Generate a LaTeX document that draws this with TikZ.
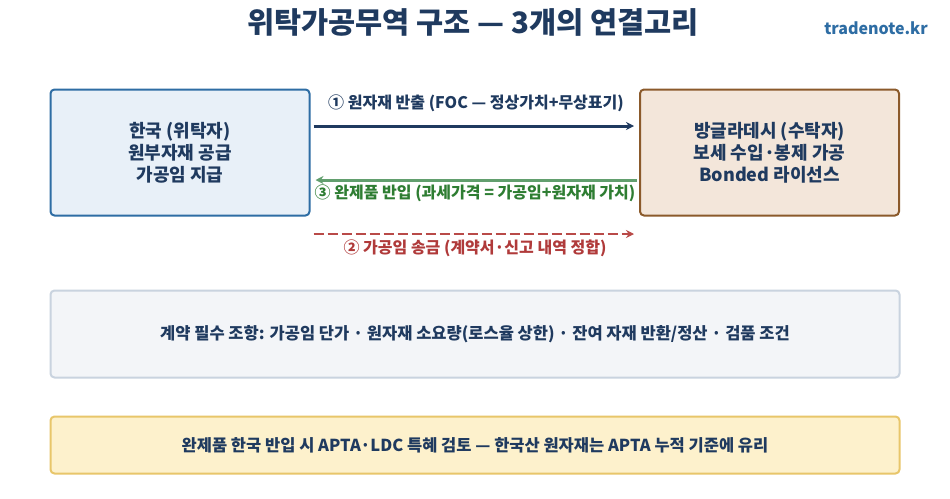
\documentclass[tikz,border=0pt]{standalone}
\usepackage{fontspec}
\setmainfont{Noto Sans CJK KR}
\usetikzlibrary{arrows.meta}
\definecolor{navy}{HTML}{1F3A5F}
\definecolor{linkblue}{HTML}{2E6DA4}
\definecolor{lboxfill}{HTML}{E8F0F8}
\definecolor{lboxdraw}{HTML}{2E6DA4}
\definecolor{rboxfill}{HTML}{F3E6DA}
\definecolor{rboxdraw}{HTML}{8B5A2B}
\definecolor{greenline}{HTML}{629F6E}
\definecolor{greentext}{HTML}{2E7D32}
\definecolor{redline}{HTML}{B94A48}
\definecolor{redtext}{HTML}{B03A3A}
\definecolor{gboxfill}{HTML}{F3F5F8}
\definecolor{gboxdraw}{HTML}{C9D3DF}
\definecolor{yboxfill}{HTML}{FDF1CC}
\definecolor{yboxdraw}{HTML}{E8C66A}
\tikzset{
  party/.style={rounded corners=4pt, line width=2pt, minimum width=259pt, minimum height=126pt,
    align=center, text=navy, font=\bfseries\fontsize{18}{22}\selectfont},
  wide/.style={rounded corners=4pt, line width=2pt, minimum width=849pt, align=center,
    text=navy, font=\bfseries\fontsize{16.5}{20}\selectfont},
  flowlabel/.style={font=\bfseries\fontsize{16}{20}\selectfont, inner sep=0pt},
  tip/.style={-{Stealth[length=8pt,width=8pt]}, line width=3pt}
}
\begin{document}
\begin{tikzpicture}[x=1pt,y=-1pt]
\useasboundingbox (0,0) rectangle (950,498);
\fill[white] (0,0) rectangle (950,498);
\node[font=\bfseries\fontsize{29.5}{34}\selectfont, text=navy] (title) at (473,22) {위탁가공무역 구조 — 3개의 연결고리};
\node[font=\bfseries\fontsize{16}{18}\selectfont, text=linkblue] (site) at (876,28) {tradenote.kr};
\node[party, fill=lboxfill, draw=lboxdraw] (L) at (180,152.5) {한국 (위탁자)\\원부자재 공급\\가공임 지급};
\node[party, fill=rboxfill, draw=rboxdraw] (R) at (769.5,152.5) {방글라데시 (수탁자)\\보세 수입·봉제 가공\\Bonded 라이선스};
\draw[tip, navy] ([xshift=3pt,yshift=26.5pt]L.east) -- ([xshift=-5pt,yshift=26.5pt]R.west);
\node[flowlabel, text=navy] (l1) at (476,103) {① 원자재 반출 (FOC — 정상가치+무상표기)};
\draw[tip, greenline] ([xshift=-2pt,yshift=-27.5pt]R.west) -- ([xshift=5pt,yshift=-27.5pt]L.east);
\node[flowlabel, text=greentext] (l3) at (475,193) {③ 완제품 반입 (과세가격 = 가공임+원자재 가치)};
\draw[tip, redline, line width=2.5pt, dash pattern=on 10pt off 4pt] ([xshift=3pt,yshift=-81.5pt]L.east) -- ([xshift=-5pt,yshift=-81.5pt]R.west);
\node[flowlabel, text=redtext] (l2) at (475,248) {② 가공임 송금 (계약서·신고 내역 정합)};
\node[wide, fill=gboxfill, draw=gboxdraw, minimum height=87pt] (terms) at (475,334) {계약 필수 조항: 가공임 단가 · 원자재 소요량(로스율 상한) · 잔여 자재 반환/정산 · 검품 조건};
\node[wide, fill=yboxfill, draw=yboxdraw, minimum height=57pt] (note) at (475,445) {완제품 한국 반입 시 APTA·LDC 특혜 검토 — 한국산 원자재는 APTA 누적 기준에 유리};
\end{tikzpicture}
\end{document}
